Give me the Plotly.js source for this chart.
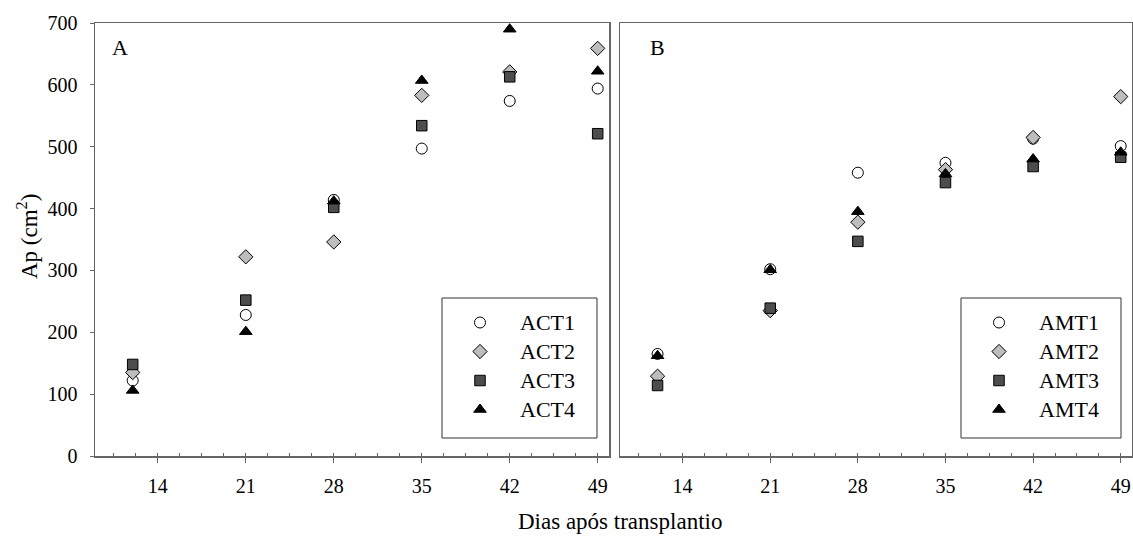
<!DOCTYPE html>
<html>
<head>
<meta charset="utf-8">
<script src="https://cdn.plot.ly/plotly-3.0.1.min.js"></script>
<style>html,body{margin:0;padding:0;background:#fff;}#chart{width:1133px;height:539px;}</style>
</head>
<body>
<div id="chart"></div>
<script>
// Days after transplant
const days = [12, 21, 28, 35, 42, 49];
const xTickVals = [14, 21, 28, 35, 42, 49];
const xTickText = ["14", "21", "28", "35", "42", "49"];
const yTickVals = [0, 100, 200, 300, 400, 500, 600, 700];

// Panel A
const namesA = ["ACT1", "ACT2", "ACT3", "ACT4"];
const ACT1 = [122, 228, 414, 497, 574, 594];
const ACT2 = [135, 322, 346, 583, 621, 659];
const ACT3 = [148, 252, 402, 534, 613, 521];
const ACT4 = [106, 201, 412, 607, 690, 622];

// Panel B
const namesB = ["AMT1", "AMT2", "AMT3", "AMT4"];
const AMT1 = [165, 302, 458, 474, 513, 501];
const AMT2 = [129, 235, 378, 463, 515, 581];
const AMT3 = [114, 239, 347, 442, 468, 483];
const AMT4 = [162, 301, 395, 456, 480, 491];

const W = 1133, H = 539;
const ml = 95, mr = 1, mt = 23, mb = 83;
const pw = W - ml - mr, ph = H - mt - mb;
const px = v => (v - ml) / pw;   // pixel -> paper x
const py = v => (H - mb - v) / ph; // pixel -> paper y

const FONT = "Liberation Serif";
const styles = [
  {symbol: "circle", size: 11, color: "#ffffff", line: {color: "#000", width: 1}},
  {symbol: "diamond", size: 11, color: "#bdbdbd", line: {color: "#000", width: 1}},
  {symbol: "square", size: 10.5, color: "#4d4d4d", line: {color: "#000", width: 1}},
  {symbol: "triangle-up", size: 11, color: "#000000", line: {color: "#000", width: 1}}
];
const legendLabel = n => "<span style='font-size:22px'>" + n + "</span>";

const seriesA = [ACT1, ACT2, ACT3, ACT4];
const seriesB = [AMT1, AMT2, AMT3, AMT4];
const traces = [];
seriesA.forEach((s, i) => traces.push({
  x: days, y: s, name: legendLabel(namesA[i]), type: "scatter", mode: "markers",
  marker: styles[i], xaxis: "x", yaxis: "y", legend: "legend"
}));
seriesB.forEach((s, i) => traces.push({
  x: days, y: s, name: legendLabel(namesB[i]), type: "scatter", mode: "markers",
  marker: styles[i], xaxis: "x2", yaxis: "y2", legend: "legend2"
}));

const frame = "#666666";
function xax(domain) {
  return {
    domain: domain, range: [9, 49.9], showgrid: false, zeroline: false,
    showline: true, linecolor: frame, linewidth: 1.5, mirror: true,
    tickvals: xTickVals, ticktext: xTickText, ticks: "outside", ticklen: 5,
    tickcolor: frame, tickwidth: 1,
    minor: {tick0: 14, dtick: 1.75, ticks: "inside", ticklen: 3, tickcolor: frame, tickwidth: 1, showgrid: false},
    tickfont: {family: FONT, size: 20, color: "#000"}, ticklabelstandoff: 6
  };
}
function yax(showLabels, anchor) {
  return {
    domain: [0, 1], range: [0, 700], showgrid: false, zeroline: false,
    showline: true, linecolor: frame, linewidth: 1.5, mirror: true,
    tickvals: yTickVals, ticks: showLabels ? "outside" : "", ticklen: 4,
    tickcolor: frame, tickwidth: 1, showticklabels: showLabels, anchor: anchor,
    tickfont: {family: FONT, size: 20, color: "#000"}, ticklabelstandoff: 8
  };
}

const legendCommon = {
  font: {family: FONT, size: 20, color: "#000"}, bgcolor: "rgba(0,0,0,0)",
  borderwidth: 0, xanchor: "left", yanchor: "middle", itemwidth: 70,
  itemclick: false, itemdoubleclick: false
};

const layout = {
  width: W, height: H,
  margin: {l: ml, r: mr, t: mt, b: mb, pad: 0},
  paper_bgcolor: "#fff", plot_bgcolor: "#fff",
  font: {family: FONT, color: "#000"},
  xaxis: xax([0, px(609)]),
  yaxis: yax(true, "x"),
  xaxis2: xax([px(620), 1]),
  yaxis2: yax(false, "x2"),
  legend: Object.assign({}, legendCommon, {x: px(440), y: py(366)}),
  legend2: Object.assign({}, legendCommon, {x: px(959), y: py(366)}),
  shapes: [
    {type: "rect", xref: "paper", yref: "paper", x0: px(442), x1: px(597), y0: py(438), y1: py(298), line: {color: "#333", width: 1}},
    {type: "rect", xref: "paper", yref: "paper", x0: px(961), x1: px(1121), y0: py(438), y1: py(298), line: {color: "#333", width: 1}}
  ],
  annotations: [
    {text: "A", xref: "paper", yref: "paper", x: px(120), y: py(47), showarrow: false, xanchor: "center", yanchor: "middle", font: {family: FONT, size: 22, color: "#000"}},
    {text: "B", xref: "paper", yref: "paper", x: px(657), y: py(47), showarrow: false, xanchor: "center", yanchor: "middle", font: {family: FONT, size: 22, color: "#000"}},
    {text: "Dias após transplantio", xref: "paper", yref: "paper", x: px(620), y: py(521), showarrow: false, xanchor: "center", yanchor: "middle", font: {family: FONT, size: 23, color: "#000"}},
    {text: "Ap (cm<sup>2</sup>)", xref: "paper", yref: "paper", x: px(27), y: py(237), showarrow: false, textangle: -90, xanchor: "center", yanchor: "middle", font: {family: FONT, size: 23, color: "#000"}}
  ],
  showlegend: true
};

Plotly.newPlot("chart", traces, layout, {staticPlot: true, displayModeBar: false});
</script>
</body>
</html>
